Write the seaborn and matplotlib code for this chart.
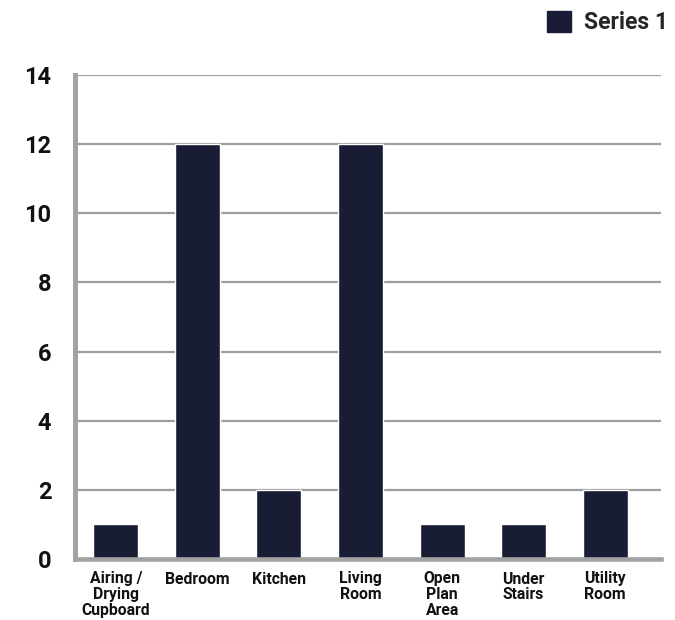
import matplotlib
matplotlib.use("Agg")
import matplotlib.pyplot as plt
import seaborn as sns
import pandas as pd
from matplotlib.patches import Patch

categories = ["Airing /\nDrying\nCupboard", "Bedroom", "Kitchen", "Living\nRoom",
              "Open\nPlan\nArea", "Under\nStairs", "Utility\nRoom"]
values = [1, 12, 2, 12, 1, 1, 2]
series_name = "Series 1"
yticks = [0, 2, 4, 6, 8, 10, 12, 14]

sns.set_theme(style="white")
plt.rcParams['font.family'] = ['Roboto', 'DejaVu Sans']

df = pd.DataFrame({"cat": categories, "val": values, "series": series_name})

fig = plt.figure(figsize=(6.75, 6.2), dpi=100)
ax = fig.add_axes([75/675, 1-559/620, (661-75)/675, (559-75)/620])

bar_color = "#181d35"
sns.barplot(data=df, x="cat", y="val", hue="series", palette=[bar_color],
            width=0.55, ax=ax, saturation=1, legend=False)

# category band ends at ~646px, axis line continues to ~661px
xmax = 6.5 + 15 / 81.6
ax.set_xlim(-0.5, xmax)
ax.set_ylim(0, 14)
ax.set_yticks(yticks)
ax.set_yticklabels([str(t) for t in yticks], fontsize=17, fontweight="bold", color="#111111")
ax.set_xticks(range(len(categories)))
ax.set_xticklabels(categories, fontsize=11.3, fontweight="bold", color="#111111",
                   linespacing=1.08, va="top")
ax.set_xlabel("")
ax.set_ylabel("")

grid_c = "#9e9e9e"
ax.yaxis.grid(True, color=grid_c, linewidth=1.6)
ax.set_axisbelow(True)
ax.tick_params(axis="y", length=7, width=1.6, color=grid_c, pad=10)
ax.tick_params(axis="x", which="major", length=0, pad=9)
ax.set_xticks([xmax], minor=True)
ax.tick_params(axis="x", which="minor", length=9, width=3.3, color="#a3a3a3", direction="out")

for s in ["top", "right"]:
    ax.spines[s].set_visible(False)
ax.spines["left"].set_color("#a3a3a3")
ax.spines["left"].set_linewidth(3.6)
ax.spines["bottom"].set_color("#a3a3a3")
ax.spines["bottom"].set_linewidth(3.3)
ax.spines["bottom"].set_capstyle("projecting")

handles = [Patch(facecolor=bar_color, edgecolor=bar_color, label=series_name)]
fig.legend(handles=handles, loc="upper right", bbox_to_anchor=(1 - 7/675, 1 - 11/620),
           frameon=False, prop={"size": 16.5, "weight": "bold"},
           handlelength=1.05, handleheight=1.0, handletextpad=0.55,
           borderaxespad=0, borderpad=0)

fig.savefig("out.png", dpi=100)
